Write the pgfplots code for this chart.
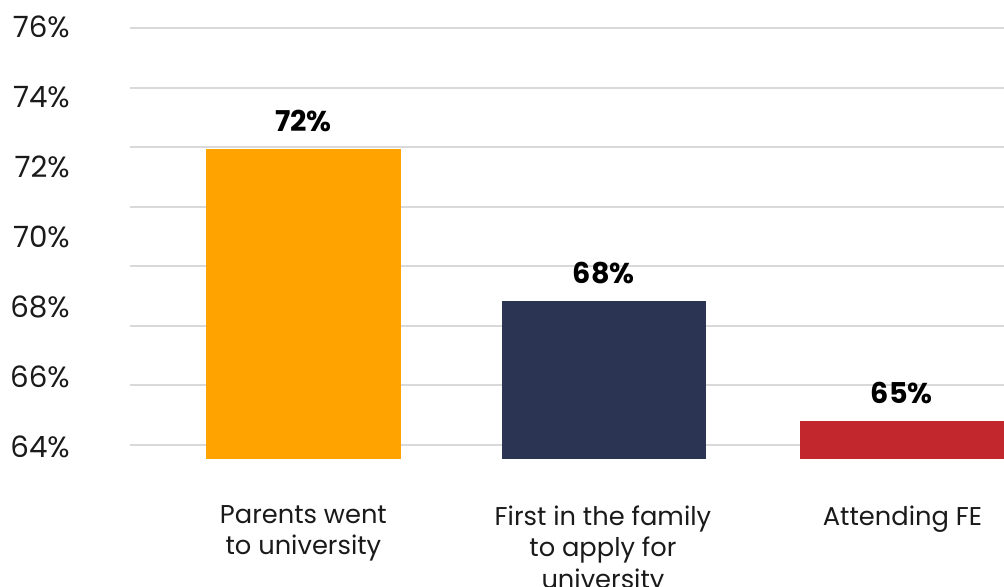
\documentclass[border=0pt]{standalone}
\usepackage{fontspec}
\setmainfont{Poppins}
\usepackage{pgfplots}
\pgfplotsset{compat=1.18}
\definecolor{cOrange}{HTML}{FFA300}
\definecolor{cNavy}{HTML}{2B3453}
\definecolor{cRed}{HTML}{C1272D}
\definecolor{cGrid}{HTML}{D9D9D9}
\definecolor{cText}{HTML}{1A1A1A}
\begin{document}
\begin{tikzpicture}
\useasboundingbox (0,0) rectangle (753pt,-439.5pt);
\begin{axis}[
  at={(97.5pt,-344.475pt)}, anchor=south west,
  scale only axis, width=655.5pt, height=324.45pt,
  xmin=-0.579, xmax=2.339,
  ymin=63.64, ymax=76.0,
  axis line style={draw=none},
  major tick length=0pt,
  xtick={0,1,2},
  xticklabels={Parents went\\to university, First in the family\\to apply for\\university, Attending FE},
  xticklabel style={align=center, anchor=north, inner sep=0pt, yshift=-34.5pt,
    font=\fontsize{19.3}{23.6}\selectfont, text=cText},
  ytick={64,66,68,70,72,74,76},
  yticklabels={64\%,66\%,68\%,70\%,72\%,74\%,76\%},
  yticklabel style={anchor=east, inner sep=0pt, xshift=-45pt,
    font=\fontsize{22}{26}\selectfont, text=cText},
  extra y ticks={64.05,65.75,67.45,69.16,70.86,72.55,74.26,75.96},
  extra y tick labels={},
  extra y tick style={ymajorgrids=true, major grid style={color=cGrid, line width=1.5pt}},
  point meta=explicit symbolic,
  nodes near coords,
  nodes near coords style={anchor=base, inner sep=0pt, yshift=13pt,
    font=\fontsize{21.5}{24}\selectfont\bfseries, text=black},
]
\addplot[ybar, bar width=146pt, fill=cOrange, draw=none] coordinates {(0,72.51) [72\%]};
\addplot[ybar, bar width=153pt, fill=cNavy, draw=none] coordinates {(1.003,68.16) [68\%]};
\addplot[ybar, bar width=153pt, fill=cRed, draw=none] coordinates {(1.998,64.73) [65\%]};
\end{axis}
\end{tikzpicture}
\end{document}
